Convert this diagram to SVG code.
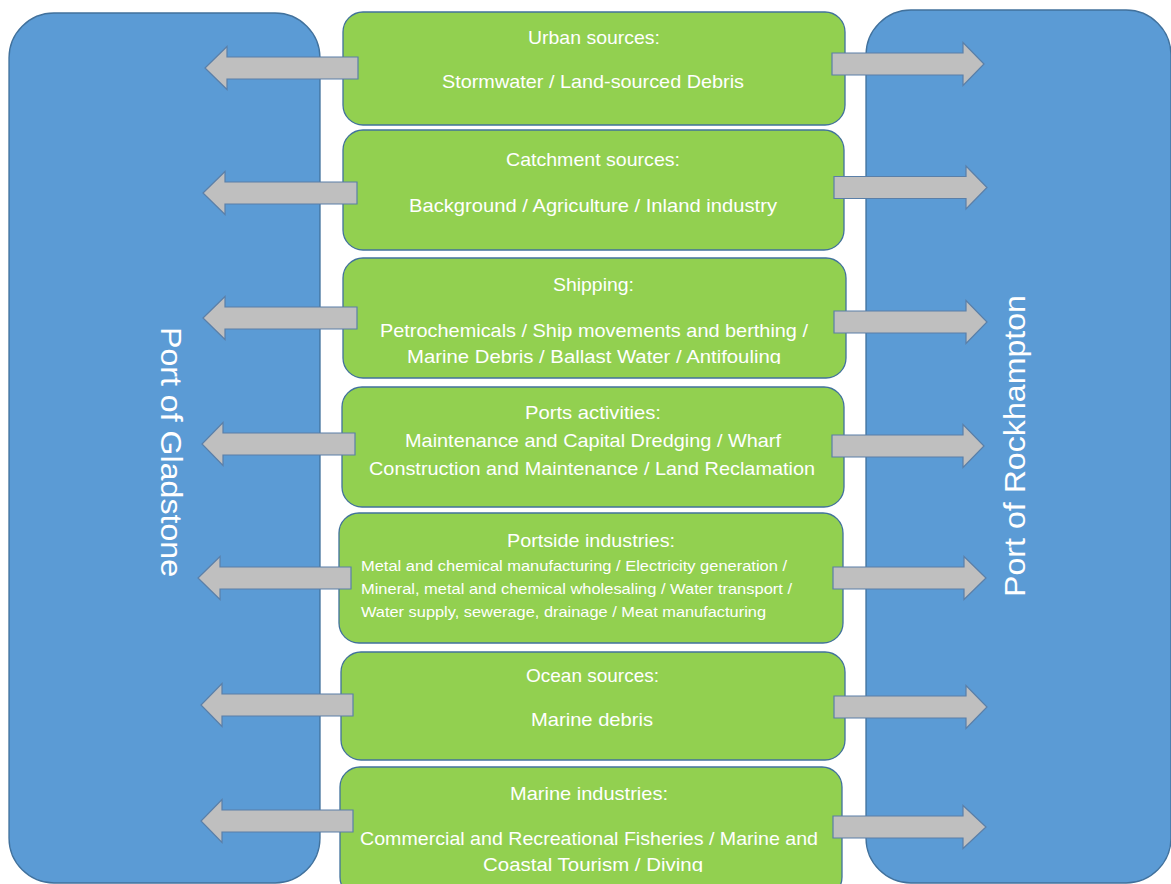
<svg xmlns="http://www.w3.org/2000/svg" width="1171" height="884" viewBox="0 0 1171 884">
  <style>
    .port { fill: #5B9BD5; stroke: #41719C; stroke-width: 1.3; }
    .box { fill: #92D050; stroke: #41719C; stroke-width: 1.3; }
    .arrow { fill: #BFBFBF; stroke: #5A7FA8; stroke-width: 1.2; stroke-linejoin: miter; }
    text { font-family: "Liberation Sans", Arial, sans-serif; fill: #FFFFFF; }
    .t { font-size: 18.5px; text-anchor: middle; }
    .s { font-size: 14.5px; text-anchor: start; }
    .portlabel { font-size: 29px; text-anchor: middle; }
  </style>
  <defs>
    <clipPath id="clip-shipping"><rect x="340" y="258" width="510" height="106"/></clipPath>
    <clipPath id="clip-marine"><rect x="340" y="767" width="510" height="105"/></clipPath>
  </defs>
  <rect width="1171" height="884" fill="#FFFFFF"/>

  <!-- side ports -->
  <g id="port-gladstone">
    <rect class="port" x="9" y="13" width="311" height="870" rx="45" ry="45"/>
    <text class="portlabel" transform="translate(161 452) rotate(90)" textLength="250" lengthAdjust="spacingAndGlyphs">Port of Gladstone</text>
  </g>
  <g id="port-rockhampton">
    <rect class="port" x="866" y="10" width="305" height="873" rx="45" ry="45"/>
    <text class="portlabel" transform="translate(1025 446) rotate(-90)" textLength="302" lengthAdjust="spacingAndGlyphs">Port of Rockhampton</text>
  </g>

  <!-- source categories -->
  <g id="urban-sources">
    <rect class="box" x="343" y="12" width="502" height="113" rx="20" ry="20"/>
  </g>
  <g id="catchment-sources">
    <rect class="box" x="343" y="130" width="501" height="120" rx="20" ry="20"/>
  </g>
  <g id="shipping">
    <rect class="box" x="343" y="258" width="503" height="120" rx="20" ry="20"/>
  </g>
  <g id="ports-activities">
    <rect class="box" x="342" y="387" width="502" height="120" rx="20" ry="20"/>
  </g>
  <g id="portside-industries">
    <rect class="box" x="339" y="513" width="504" height="130" rx="20" ry="20"/>
  </g>
  <g id="ocean-sources">
    <rect class="box" x="341" y="652" width="504" height="108" rx="20" ry="20"/>
  </g>
  <g id="marine-industries">
    <rect class="box" x="340" y="767" width="502" height="130" rx="20" ry="20"/>
  </g>

  <!-- flows out to both ports -->
  <g id="connectors">
    <path class="arrow" d="M358 57 H227 V46.5 L205 68 L227 89.5 V79 H358 Z"/>
    <path class="arrow" d="M357 182 H225 V171.5 L203 193 L225 214.5 V204 H357 Z"/>
    <path class="arrow" d="M357 307 H225 V296.5 L203 318 L225 339.5 V329 H357 Z"/>
    <path class="arrow" d="M355 433 H223 V422.5 L202 444 L223 465.5 V455 H355 Z"/>
    <path class="arrow" d="M351 567 H220 V556.5 L198 578 L220 599.5 V589 H351 Z"/>
    <path class="arrow" d="M353 694 H222 V683.5 L201 705 L222 726.5 V716 H353 Z"/>
    <path class="arrow" d="M353 810 H222 V799.5 L201 821 L222 842.5 V832 H353 Z"/>

    <path class="arrow" d="M832 53 H963 V42.5 L984 64 L963 85.5 V75 H832 Z"/>
    <path class="arrow" d="M834 176.5 H966 V166 L987 187.5 L966 209 V198.5 H834 Z"/>
    <path class="arrow" d="M834 311 H966 V300.5 L987 322 L966 343.5 V333 H834 Z"/>
    <path class="arrow" d="M832 435 H963 V424.5 L984 446 L963 467.5 V457 H832 Z"/>
    <path class="arrow" d="M833 567 H964 V556.5 L986 578 L964 599.5 V589 H833 Z"/>
    <path class="arrow" d="M834 696 H966 V685.5 L987 707 L966 728.5 V718 H834 Z"/>
    <path class="arrow" d="M833 816 H963 V805.5 L986 827 L963 848.5 V838 H833 Z"/>
  </g>

  <!-- labels -->
  <g id="labels">
    <text class="t" x="594" y="44" textLength="132" lengthAdjust="spacingAndGlyphs">Urban sources:</text>
    <text class="t" x="593" y="88" textLength="302" lengthAdjust="spacingAndGlyphs">Stormwater / Land-sourced Debris</text>

    <text class="t" x="593" y="166" textLength="174" lengthAdjust="spacingAndGlyphs">Catchment sources:</text>
    <text class="t" x="593" y="212" textLength="368" lengthAdjust="spacingAndGlyphs">Background / Agriculture / Inland industry</text>

    <g clip-path="url(#clip-shipping)">
      <text class="t" x="593.5" y="291" textLength="81" lengthAdjust="spacingAndGlyphs">Shipping:</text>
      <text class="t" x="594" y="337" textLength="428" lengthAdjust="spacingAndGlyphs">Petrochemicals / Ship movements and berthing /</text>
      <text class="t" x="594" y="363" textLength="374" lengthAdjust="spacingAndGlyphs">Marine Debris / Ballast Water / Antifouling</text>
    </g>

    <text class="t" x="593" y="419" textLength="136" lengthAdjust="spacingAndGlyphs">Ports activities:</text>
    <text class="t" x="593" y="447" textLength="376" lengthAdjust="spacingAndGlyphs">Maintenance and Capital Dredging / Wharf</text>
    <text class="t" x="592" y="475" textLength="446" lengthAdjust="spacingAndGlyphs">Construction and Maintenance / Land Reclamation</text>

    <text class="t" x="591" y="547" textLength="168" lengthAdjust="spacingAndGlyphs">Portside industries:</text>
    <text class="s" x="361" y="571" textLength="426" lengthAdjust="spacingAndGlyphs">Metal and chemical manufacturing / Electricity generation /</text>
    <text class="s" x="361" y="594" textLength="431" lengthAdjust="spacingAndGlyphs">Mineral, metal and chemical wholesaling / Water transport /</text>
    <text class="s" x="361" y="617" textLength="405" lengthAdjust="spacingAndGlyphs">Water supply, sewerage, drainage / Meat manufacturing</text>

    <text class="t" x="592.5" y="682" textLength="133" lengthAdjust="spacingAndGlyphs">Ocean sources:</text>
    <text class="t" x="592" y="726" textLength="122" lengthAdjust="spacingAndGlyphs">Marine debris</text>

    <g clip-path="url(#clip-marine)">
      <text class="t" x="589" y="800" textLength="158" lengthAdjust="spacingAndGlyphs">Marine industries:</text>
      <text class="t" x="589" y="845" textLength="458" lengthAdjust="spacingAndGlyphs">Commercial and Recreational Fisheries / Marine and</text>
      <text class="t" x="593" y="871" textLength="220" lengthAdjust="spacingAndGlyphs">Coastal Tourism / Diving</text>
    </g>
  </g>
</svg>
